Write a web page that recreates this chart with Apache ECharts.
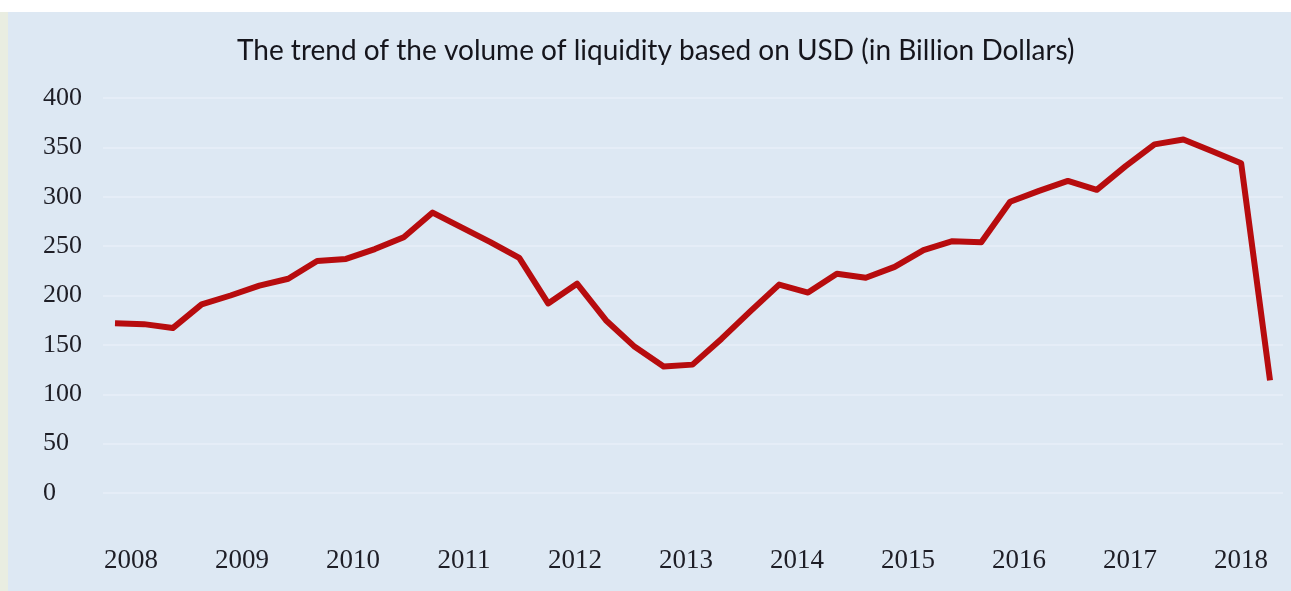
<!DOCTYPE html>
<html>
<head>
<meta charset="utf-8">
<style>
  html, body { margin: 0; padding: 0; background: #ffffff; width: 1291px; height: 591px; overflow: hidden; }
  #strip { position: absolute; left: 0; top: 12px; width: 8px; height: 579px; background: #e9ede1; }
  #bg { position: absolute; left: 8px; top: 12px; width: 1283px; height: 579px; background: #dde8f3; }
  #chart { position: absolute; left: 0; top: 0; width: 1291px; height: 591px; }
</style>
<script src="https://cdn.jsdelivr.net/npm/echarts@6/dist/echarts.min.js"></script>
</head>
<body>
<div id="strip"></div>
<div id="bg"></div>
<div id="chart"></div>
<script>
// Year tick labels on the horizontal axis
const yearLabels = ['2008','2009','2010','2011','2012','2013','2014','2015','2016','2017','2018'];
// Quarterly observations, 2008 Q1 .. 2018 Q1
const quarters = [];
for (let y = 2008; y <= 2018; y++) {
  for (let q = 1; q <= 4; q++) {
    if (y === 2018 && q > 1) break;
    quarters.push(y + ' Q' + q);
  }
}
// Liquidity volume (billion USD)
const liquidity = [
  172, 171, 167, 191, 200, 210, 217, 235, 237, 247,
  259, 284, 269, 254, 238, 192, 212, 175, 148, 128,
  130, 156, 184, 211, 203, 222, 218, 229, 246, 255,
  254, 295, 306, 316, 307, 331, 353, 358, 346, 334,
  114
];
const yTicks = { min: 0, max: 400, interval: 50 };

const chart = echarts.init(document.getElementById('chart'), null, { renderer: 'canvas' });
chart.setOption({
  backgroundColor: 'transparent',
  animation: false,
  title: {
    text: 'The trend of the volume of liquidity based on USD (in Billion Dollars)',
    left: 232,
    top: 32,
    textStyle: { fontFamily: 'Lato', fontSize: 28, fontWeight: 'normal', color: '#15151c' }
  },
  grid: [
    { left: 103, right: 8, top: 98, bottom: 98 },
    { left: 131, right: 50, top: 98, bottom: 98 }
  ],
  xAxis: [
    { type: 'value', gridIndex: 0, min: -0.4156, max: 40.45, show: false },
    {
      type: 'category', gridIndex: 1, data: yearLabels, boundaryGap: false,
      axisLine: { show: false }, axisTick: { show: false }, splitLine: { show: false },
      axisLabel: { margin: 54, fontFamily: 'Liberation Serif', fontSize: 27, color: '#1e1e26' }
    }
  ],
  yAxis: [
    {
      type: 'value', gridIndex: 0, min: yTicks.min, max: yTicks.max, interval: yTicks.interval,
      axisLine: { show: false }, axisTick: { show: false },
      axisLabel: { align: 'left', margin: 60, fontFamily: 'Liberation Serif', fontSize: 26, color: '#1e1e26' },
      splitLine: { lineStyle: { color: '#e7eff8', width: 1.5 } }
    },
    { type: 'value', gridIndex: 1, min: yTicks.min, max: yTicks.max, show: false }
  ],
  series: [{
    type: 'line',
    xAxisIndex: 0,
    yAxisIndex: 0,
    z: 5,
    data: liquidity.map((v, i) => [i, v]),
    symbol: 'none',
    lineStyle: { color: '#b70c0e', width: 6, join: 'round' }
  }]
});
</script>
</body>
</html>
